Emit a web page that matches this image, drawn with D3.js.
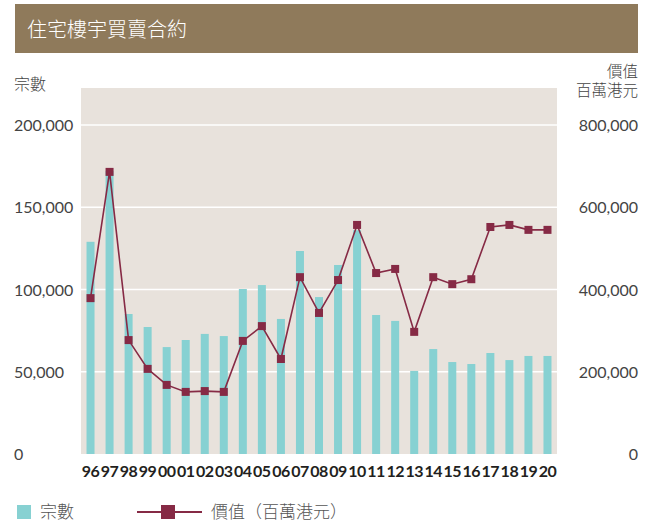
<!DOCTYPE html>
<html>
<head>
<meta charset="utf-8">
<script src="https://cdn.jsdelivr.net/npm/d3@7"></script>
<style>
  body { margin: 0; background: #fff; }
  svg { display: block; }
</style>
</head>
<body>
<svg id="chart"></svg>
<script>
// data
var years = ["96","97","98","99","00","01","02","03","04","05","06","07","08","09","10","11","12","13","14","15","16","17","18","19","20"];
var deals = [129000,172000,85100,77200,65000,69300,73000,71700,100300,102700,82100,123400,95400,114900,136000,84500,80900,50500,63800,55900,54700,61400,57100,59600,59600];
var values = [379000,686000,277000,207000,168000,151000,153000,151000,275000,311000,231000,430000,343000,423000,557000,440000,450000,297000,430000,413000,425000,552000,557000,545000,545000];
var leftTicks = [0,50000,100000,150000,200000];
var rightTicks = [0,200000,400000,600000,800000];

var W = 647, H = 522;
var plot = {left: 81, right: 557, top: 88, bottom: 454};

var cjk = "'Noto Sans CJK TC', 'Noto Sans CJK SC', sans-serif";
var num = "Lato, 'Open Sans', sans-serif";

var svg = d3.select("#chart")
    .attr("width", W)
    .attr("height", H);

// title bar
svg.append("rect")
    .attr("x", 15).attr("y", 4)
    .attr("width", 623).attr("height", 49)
    .attr("fill", "#8f7a5b");

svg.append("text")
    .attr("x", 27).attr("y", 37)
    .style("font-family", cjk)
    .style("font-size", "20px")
    .style("font-weight", "300")
    .attr("fill", "#fff")
    .text("住宅樓宇買賣合約");

// scales
var x = d3.scaleBand().domain(years).range([plot.left, plot.right]).padding(0);
var yL = d3.scaleLinear().domain([0, 200000]).range([plot.bottom, plot.bottom - 4 * 82.25]);
var yR = d3.scaleLinear().domain([0, 800000]).range([plot.bottom, plot.bottom - 4 * 82.25]);

// plot background
svg.append("rect")
    .attr("x", plot.left).attr("y", plot.top)
    .attr("width", plot.right - plot.left)
    .attr("height", plot.bottom - plot.top)
    .attr("fill", "#e8e2dc");

// gridlines
svg.selectAll(".grid")
    .data(leftTicks.filter(function(d) { return d > 0; }))
    .enter().append("line")
    .attr("x1", plot.left).attr("x2", plot.right)
    .attr("y1", function(d) { return yL(d); })
    .attr("y2", function(d) { return yL(d); })
    .attr("stroke", "#fff")
    .attr("stroke-width", 1.5);

// left tick labels
svg.selectAll(".ltick")
    .data(leftTicks)
    .enter().append("text")
    .attr("x", 14)
    .attr("y", function(d) { return yL(d) + 6; })
    .style("font-family", num)
    .style("font-size", "16px")
    .attr("fill", "#444")
    .text(function(d) { return d3.format(",")(d); });

// right tick labels
svg.selectAll(".rtick")
    .data(rightTicks)
    .enter().append("text")
    .attr("x", 638)
    .attr("y", function(d) { return yR(d) + 6; })
    .attr("text-anchor", "end")
    .style("font-family", num)
    .style("font-size", "16px")
    .attr("fill", "#444")
    .text(function(d) { return d3.format(",")(d); });

// axis titles
svg.append("text")
    .attr("x", 14).attr("y", 90)
    .style("font-family", cjk).style("font-size", "16px")
    .style("font-weight", "300")
    .attr("fill", "#444")
    .text("宗數");

var rTitle = svg.append("text")
    .attr("text-anchor", "end")
    .style("font-family", cjk).style("font-size", "15.5px")
    .style("font-weight", "300")
    .attr("fill", "#444");
rTitle.append("tspan").attr("x", 638).attr("y", 77).text("價值");
rTitle.append("tspan").attr("x", 638).attr("dy", 19).text("百萬港元");

// bars
var barW = 8;
svg.selectAll(".bar")
    .data(deals)
    .enter().append("rect")
    .attr("x", function(d, i) { return x(years[i]) + x.bandwidth() / 2 - barW / 2; })
    .attr("y", function(d) { return yL(d); })
    .attr("width", barW)
    .attr("height", function(d) { return plot.bottom - yL(d); })
    .attr("fill", "#87d1d2");

// x labels
svg.selectAll(".xlab")
    .data(years)
    .enter().append("text")
    .attr("x", function(d) { return x(d) + x.bandwidth() / 2; })
    .attr("y", 477)
    .attr("text-anchor", "middle")
    .style("font-family", num)
    .style("font-size", "16px")
    .style("font-weight", "700")
    .style("letter-spacing", "-0.5px")
    .attr("fill", "#231f20")
    .text(function(d) { return d; });

// value line
var line = d3.line()
    .x(function(d, i) { return x(years[i]) + x.bandwidth() / 2; })
    .y(function(d) { return yR(d); });

svg.append("path")
    .datum(values)
    .attr("d", line)
    .attr("fill", "none")
    .attr("stroke", "#862a45")
    .attr("stroke-width", 1.6);

var mk = 8;
svg.selectAll(".marker")
    .data(values)
    .enter().append("rect")
    .attr("x", function(d, i) { return x(years[i]) + x.bandwidth() / 2 - mk / 2; })
    .attr("y", function(d) { return yR(d) - mk / 2; })
    .attr("width", mk).attr("height", mk)
    .attr("fill", "#862a45");

// legend
svg.append("rect")
    .attr("x", 17).attr("y", 505)
    .attr("width", 14).attr("height", 14)
    .attr("fill", "#87d1d2");

svg.append("text")
    .attr("x", 40).attr("y", 518)
    .style("font-family", cjk).style("font-size", "17px")
    .style("font-weight", "300")
    .attr("fill", "#555")
    .text("宗數");

svg.append("line")
    .attr("x1", 137).attr("x2", 202)
    .attr("y1", 512).attr("y2", 512)
    .attr("stroke", "#862a45")
    .attr("stroke-width", 2);

svg.append("rect")
    .attr("x", 161).attr("y", 505)
    .attr("width", 14).attr("height", 14)
    .attr("fill", "#862a45");

svg.append("text")
    .attr("x", 211).attr("y", 518)
    .style("font-family", cjk).style("font-size", "17px")
    .style("font-weight", "300")
    .attr("fill", "#555")
    .text("價值（百萬港元）");
</script>
</body>
</html>
